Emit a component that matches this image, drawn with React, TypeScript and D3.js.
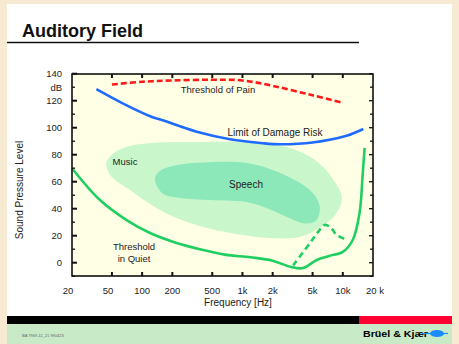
import React from "react";
import * as d3 from "d3";

const painCurve: [number, number][] = [
  [50, 132], [100, 134], [200, 135], [500, 135.5], [1000, 135], [2000, 131], [5000, 124], [10000, 118.5],
];
const damageCurve: [number, number][] = [
  [35, 128.5], [64, 118], [120, 108.5], [160, 105.5], [350, 97], [750, 91.5], [1600, 88.5],
  [2400, 87.7], [5000, 89], [10900, 94], [16000, 99],
];
const quietCurve: [number, number][] = [
  [20, 70], [38, 46.4], [70, 31.6], [120, 22], [213, 15], [376, 10], [670, 6], [1200, 4], [2000, 1.5],
  [3000, -3], [4000, -4], [5500, 2], [7300, 5], [10000, 8], [12600, 17], [14700, 37], [15800, 66], [16500, 85],
];
const quietDashed: [number, number][] = [
  [3200, -2], [4700, 14.5], [5700, 23], [6600, 28], [7600, 26], [8700, 20.5], [11000, 17],
];
const musicArea: [number, number][] = [
  [44, 74], [54, 82], [75, 86.5], [150, 89], [380, 89.5], [1200, 89], [3000, 85], [5300, 76], [7800, 63],
  [9800, 48], [8300, 35], [5900, 26], [3700, 19], [1750, 18.5], [840, 21.5], [380, 27], [160, 38], [75, 54], [48, 65],
];
const speechArea: [number, number][] = [
  [134, 62], [150, 68], [212, 72], [508, 74.6], [1057, 74], [1876, 69.5], [3484, 60.5], [5030, 51.6],
  [5900, 41], [5400, 31], [4200, 29], [2968, 33], [1876, 39.5], [1186, 44.5], [474, 46.4], [238, 48], [161, 51],
];
const xTicks = [20, 50, 100, 200, 500, 1000, 2000, 5000, 10000, 20000];
const xTickLabels = ["20", "50", "100", "200", "500", "1k", "2k", "5k", "10k", "20 k"];
const yTicks = [0, 20, 40, 60, 80, 100, 120, 140];
const yMinorTicks = [-10, 0, 10, 20, 30, 40, 50, 60, 70, 80, 90, 100, 110, 120, 130, 140];

const FONT = "Arial, 'Liberation Sans', sans-serif";

export default function App() {
  const x = d3.scaleLog().domain([20, 20000]).range([72, 373]);
  const y = d3.scaleLinear().domain([-10, 140]).range([276.2, 73.7]);
  const line = d3.line<[number, number]>().x((d) => x(d[0])).y((d) => y(d[1])).curve(d3.curveCatmullRom.alpha(0.5));
  const area = d3.line<[number, number]>().x((d) => x(d[0])).y((d) => y(d[1])).curve(d3.curveCatmullRomClosed.alpha(0.5));
  const green = "#1fcf62";
  const L = 72, R = 373, T = 74, B = 276;

  return (
    <svg width={459} height={344} style={{ position: "absolute", left: 0, top: 0 }} fontFamily={FONT}>
      <rect x={0} y={0} width={459} height={344} fill="#f7ead2" />
      <rect x={7} y={4} width={445} height={340} fill="#ffffff" />
      <text x={22} y={37} fontSize={18} fontWeight="bold" fill="#111">Auditory Field</text>
      <line x1={7} x2={359} y1={42.5} y2={42.5} stroke="#111" strokeWidth={1.6} />

      <rect x={L} y={T} width={R - L} height={B - T} fill="#ffffe6" />
      <path d={area(musicArea) || ""} fill="#c9f7cb" />
      <path d={area(speechArea) || ""} fill="#8ce8b9" />

      <path d={line(painCurve) || ""} fill="none" stroke="#ff1a1a" strokeWidth={2.6} strokeDasharray="6 3" />
      <path d={line(damageCurve) || ""} fill="none" stroke="#1f6bff" strokeWidth={2.6} />
      <path d={line(quietCurve) || ""} fill="none" stroke={green} strokeWidth={2.6} />
      <path d={line(quietDashed) || ""} fill="none" stroke={green} strokeWidth={2.6} strokeDasharray="6 4" />

      <g fontSize={9.5} fill="#222">
        <text x={218} y={92.5} textAnchor="middle">Threshold of Pain</text>
        <text x={275} y={136} textAnchor="middle" fontSize={10}>Limit of Damage Risk</text>
        <text x={125} y={165} textAnchor="middle">Music</text>
        <text x={246} y={188} textAnchor="middle" fontSize={10}>Speech</text>
        <text x={134} y={250} textAnchor="middle">Threshold</text>
        <text x={134} y={262} textAnchor="middle">in Quiet</text>
      </g>

      {/* frame */}
      <rect x={L} y={T} width={R - L} height={B - T} fill="none" stroke="#111" strokeWidth={1.6} />
      {yMinorTicks.map((v) => {
        const major = yTicks.includes(v);
        return (
          <g key={"yt" + v}>
            <line x1={L} x2={L + (major ? 5 : 3)} y1={y(v)} y2={y(v)} stroke="#111" strokeWidth={major ? 2 : 1.3} />
            <line x1={R} x2={R - (major ? 4 : 3)} y1={y(v)} y2={y(v)} stroke="#111" strokeWidth={1.3} />
          </g>
        );
      })}
      {xTicks.slice(1, -1).map((v) => (
        <g key={"xt" + v}>
          <line x1={x(v)} x2={x(v)} y1={B} y2={B - 4} stroke="#111" strokeWidth={2} />
          <line x1={x(v)} x2={x(v)} y1={T} y2={T + 4} stroke="#111" strokeWidth={2} />
        </g>
      ))}
      <g fontSize={9.5} fill="#222">
        {yTicks.map((v) => (
          <text key={"yl" + v} x={62} y={y(v)} textAnchor="end" dominantBaseline="central">{v}</text>
        ))}
        <text x={62} y={y(130)} textAnchor="end" dominantBaseline="central">dB</text>
        {xTicks.map((v, i) => (
          <text key={"xl" + v} x={x(v) + (i === 0 ? -4 : i === 1 ? -4 : i === 9 ? 2 : 0)} y={293.5} textAnchor="middle">{xTickLabels[i]}</text>
        ))}
      </g>
      <text x={238} y={306} textAnchor="middle" fontSize={10} fill="#222">Frequency [Hz]</text>
      <text transform="translate(23,190) rotate(-90)" textAnchor="middle" fontSize={10} fill="#222">Sound Pressure Level</text>

      {/* footer */}
      <rect x={7} y={316} width={352} height={8} fill="#000" />
      <rect x={359} y={316} width={93} height={8} fill="#ff0033" />
      <rect x={7} y={324} width={445} height={20} fill="#c8eac6" />
      <text x={22} y={337} fontSize={4} fill="#666">BA 7969-11_21   990423</text>
      <text x={363} y={337} fontSize={9} fontWeight="bold" fill="#000" textLength={65} lengthAdjust="spacingAndGlyphs">Brüel &amp; Kjær</text>
      <line x1={422} x2={448} y1={333.5} y2={333.5} stroke="#1a8cff" strokeWidth={1.2} />
      <ellipse cx={437} cy={333.5} rx={7} ry={3.6} fill="#1a8cff" />
    </svg>
  );
}
